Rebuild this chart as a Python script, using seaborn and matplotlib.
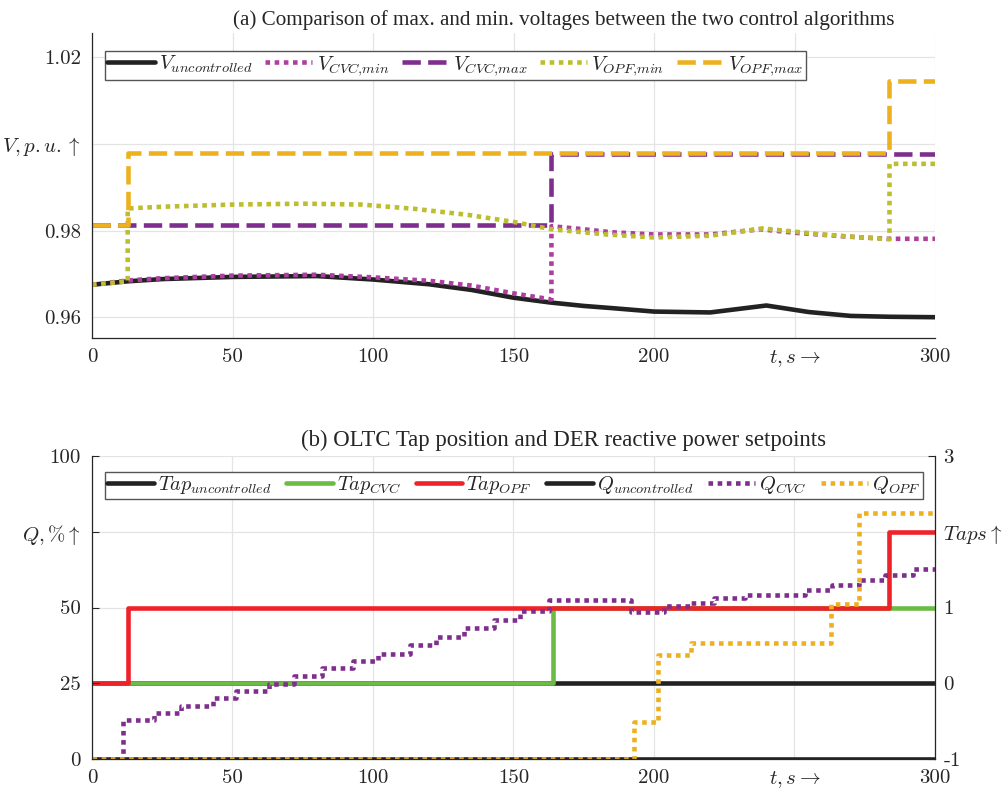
import matplotlib
matplotlib.use('Agg')  # headless

import matplotlib.pyplot as plt
import seaborn as sns

# ---- data ----
# (a) voltages in p.u.
t_unc = [0, 13, 25, 50, 80, 100, 120, 135, 150, 163, 175, 185, 200, 220, 240, 255, 270, 284, 300]
v_unc = [0.9675, 0.9683, 0.9688, 0.9693, 0.9695, 0.9687, 0.9676, 0.9663, 0.9645, 0.9634,
         0.9626, 0.9621, 0.9613, 0.9611, 0.9627, 0.9612, 0.9603, 0.9601, 0.9600]

t_cvc_min = [0, 13, 25, 50, 80, 100, 120, 135, 150, 163.5,
             163.5, 175, 185, 200, 220, 238, 250, 269, 283, 300]
v_cvc_min = [0.9675, 0.9685, 0.9690, 0.9696, 0.9698, 0.9692, 0.9684, 0.9673, 0.9655, 0.9641,
             0.9810, 0.9803, 0.9796, 0.9791, 0.9791, 0.9803, 0.9795, 0.9786, 0.9781, 0.9781]

t_cvc_max = [0, 163.5, 163.5, 300]
v_cvc_max = [0.9813, 0.9813, 0.9977, 0.9977]

t_opf_min = [0, 12.7, 12.7, 25, 50, 76, 96, 115, 134, 150, 163.5, 183, 200, 220, 238.6, 259.8, 270, 283.8,
             283.8, 300]
v_opf_min = [0.9675, 0.9683, 0.9851, 0.9855, 0.9860, 0.9862, 0.9860, 0.9850, 0.9836, 0.9820, 0.9803,
             0.9791, 0.9784, 0.9788, 0.9805, 0.9791, 0.9786, 0.9780, 0.9954, 0.9954]

t_opf_max = [0, 12.7, 12.7, 283.8, 283.8, 300]
v_opf_max = [0.9813, 0.9813, 0.9979, 0.9979, 1.0146, 1.0146]

# (b) tap positions (right axis) and reactive power in % (left axis), step changes
t_tap_unc = [0, 300]
tap_unc = [0, 0]
t_tap_cvc = [0, 164, 300]
tap_cvc = [0, 1, 1]
t_tap_opf = [0, 12.7, 283.8, 300]
tap_opf = [0, 1, 2, 2]

t_q_unc = [0, 300]
q_unc = [0, 0]
t_q_cvc = [0, 11.2, 22, 31.7, 42.9, 51.4, 62.9, 71.8, 81.9, 93, 101.7, 113, 122.4, 132.4, 142.9,
           152.3, 162.5, 191.9, 203.5, 213, 221.2, 232.4, 253.7, 263.3, 273, 282.2, 292.3, 300]
q_cvc = [0, 12.9, 15.2, 17.6, 20, 22.5, 24.7, 27.3, 29.9, 32.4, 34.8, 37.6, 40.3, 43.1, 45.9,
         48.9, 52.4, 48.4, 50.5, 51.4, 53, 54.2, 55.7, 57.4, 59.1, 60.7, 62.6, 62.6]
t_q_opf = [0, 192.9, 201.5, 213.1, 263, 273, 300]
q_opf = [0, 12.1, 34.3, 38.2, 51.1, 81.3, 81.3]

x_ticks = [0, 50, 100, 150, 200, 250, 300]
x_ticklabels = ['0', '50', '100', '150', '200', r'$t,s\rightarrow$', '300']
v_ticks = [0.96, 0.98, 1.0, 1.02]
v_ticklabels = ['0.96', '0.98', r'$V,p.u.\uparrow$', '1.02']
q_ticks = [0, 25, 50, 75, 100]
q_ticklabels = ['0', '25', '50', r'$Q,\%\uparrow$', '100']
tap_ticks = [-1, 0, 1, 2, 3]
tap_ticklabels = ['-1', '0', '1', r'$Taps\uparrow$', '3']

# ---- style ----
sns.set_style('white')
plt.rcParams['font.family'] = ['Liberation Serif', 'DejaVu Serif']
plt.rcParams['mathtext.fontset'] = 'cm'
plt.rcParams['font.size'] = 14

BLACK = '#222222'
MAGENTA = '#AD3F9F'
PURPLE = '#7E2F8E'
OLIVE = '#BDBE2F'
ORANGE = '#EDB120'
GREEN = '#6CBB45'
RED = '#EE2229'
GRID = '#e4e4e4'
AXC = '#262626'

DOT = (0, (1, 1))
DASH = (0, (4, 1.6))
LW = 3.3
TICKFONT = dict(fontfamily='cmr10', fontsize=15)
W, H = 1008, 790


def draw(ax, t, v, color, ls, label, steps=False):
    sns.lineplot(x=t, y=v, ax=ax, color=color, linestyle=ls, linewidth=LW,
                 sort=False, estimator=None, legend=False, label=label,
                 drawstyle='steps-post' if steps else 'default')


def style_axes(ax):
    ax.set_xlim(0, 300)
    ax.set_xticks(x_ticks)
    ax.set_xticklabels(x_ticklabels, **TICKFONT)
    ax.tick_params(direction='in', length=5, width=0.8, colors=AXC)
    ax.tick_params(axis='x', pad=7.5)
    ax.tick_params(axis='y', pad=8)
    ax.spines['top'].set_visible(False)
    ax.spines['right'].set_visible(False)
    for s in ('left', 'bottom'):
        ax.spines[s].set_color(AXC)
        ax.spines[s].set_linewidth(0.9)
    ax.set_xlabel('')
    ax.set_ylabel('')


def make_legend(ax, handles, labels, ncol, x_px, y_px, ax_top_px, ax_h_px, fs, colsp):
    leg = ax.legend(handles, labels, loc='upper left', ncol=ncol, fontsize=fs,
                    bbox_to_anchor=((x_px - 92) / 843, 1 - (y_px - ax_top_px) / ax_h_px),
                    borderaxespad=0, handlelength=2.3, handletextpad=0.2,
                    columnspacing=colsp, borderpad=0.12, fancybox=False,
                    framealpha=1, edgecolor='#555555')
    leg.get_frame().set_linewidth(1.0)
    return leg


fig = plt.figure(figsize=(10.08, 7.9), dpi=100)
ax_a = fig.add_axes([92 / W, 1 - 338 / H, 843 / W, 305 / H])
ax_b = fig.add_axes([92 / W, 1 - 759 / H, 843 / W, 303 / H])

# ---- (a) ----
draw(ax_a, t_unc, v_unc, BLACK, '-', r'$V_{uncontrolled}$')
draw(ax_a, t_cvc_min, v_cvc_min, MAGENTA, DOT, r'$V_{CVC{,}min}$')
draw(ax_a, t_cvc_max, v_cvc_max, PURPLE, DASH, r'$V_{CVC{,}max}$')
draw(ax_a, t_opf_min, v_opf_min, OLIVE, DOT, r'$V_{OPF{,}min}$')
draw(ax_a, t_opf_max, v_opf_max, ORANGE, DASH, r'$V_{OPF{,}max}$')

style_axes(ax_a)
ax_a.grid(True, color=GRID, linewidth=0.9)
ax_a.set_axisbelow(True)
ax_a.set_ylim(0.9552, 1.0256)
ax_a.set_yticks(v_ticks)
ax_a.set_yticklabels(v_ticklabels, **TICKFONT)
ax_a.set_title('(a) Comparison of max. and min. voltages between the two control algorithms',
               fontsize=15.2, x=(564 - 92) / 843, pad=6)
h, l = ax_a.get_legend_handles_labels()
make_legend(ax_a, h, l, 5, 105, 51, 33, 305, 14.8, 0.6)

# ---- (b) ----
ax_t = ax_b.twinx()
ax_t.set_zorder(ax_b.get_zorder() - 1)
ax_b.patch.set_visible(False)

draw(ax_t, t_tap_unc, tap_unc, BLACK, '-', r'$Tap_{uncontrolled}$', steps=True)
draw(ax_t, t_tap_cvc, tap_cvc, GREEN, '-', r'$Tap_{CVC}$', steps=True)
draw(ax_t, t_tap_opf, tap_opf, RED, '-', r'$Tap_{OPF}$', steps=True)
draw(ax_b, t_q_unc, q_unc, BLACK, '-', r'$Q_{uncontrolled}$', steps=True)
draw(ax_b, t_q_cvc, q_cvc, PURPLE, DOT, r'$Q_{CVC}$', steps=True)
draw(ax_b, t_q_opf, q_opf, ORANGE, DOT, r'$Q_{OPF}$', steps=True)

style_axes(ax_b)
ax_b.grid(False)
ax_b.set_ylim(0, 100)
ax_b.set_yticks(q_ticks)
ax_b.set_yticklabels(q_ticklabels, **TICKFONT)

# the grid lives on the (lower) tap axes so that it stays behind every line
ax_t.set_ylim(-1, 3)
ax_t.set_yticks(tap_ticks)
ax_t.set_yticklabels(tap_ticklabels, **TICKFONT)
ax_t.set_ylabel('')
ax_t.xaxis.set_visible(True)
ax_t.tick_params(axis='x', bottom=False, top=False, labelbottom=False, labeltop=False)
ax_t.grid(True, color=GRID, linewidth=0.9)
ax_t.set_axisbelow(True)
for s in ('top', 'left', 'bottom'):
    ax_t.spines[s].set_visible(False)
ax_t.spines['right'].set_color(AXC)
ax_t.spines['right'].set_linewidth(0.9)
ax_t.tick_params(axis='y', direction='in', length=5, width=0.8, colors=AXC, pad=6)

ax_b.set_title('(b) OLTC Tap position and DER reactive power setpoints',
               fontsize=16.4, x=(564 - 92) / 843, pad=7)

h1, l1 = ax_t.get_legend_handles_labels()
h2, l2 = ax_b.get_legend_handles_labels()
make_legend(ax_b, h1 + h2, l1 + l2, 6, 105, 472, 456, 303, 14.6, 0.72)

fig.savefig('out.png', dpi=100)
